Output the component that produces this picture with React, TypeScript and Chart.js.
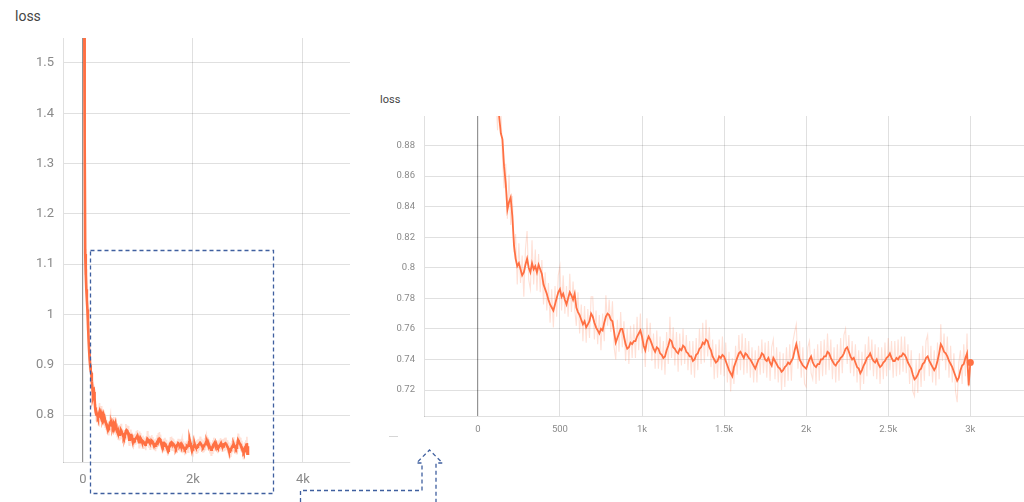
import React, { useEffect, useRef } from "react";
import { Chart, registerables } from "chart.js";

Chart.register(...registerables);

// ---- data ----
const steps = [
  0, 10, 20, 30, 40, 50, 60, 70, 80, 90,
  100, 110, 120, 130, 140, 150, 160, 170, 180, 190,
  200, 210, 220, 230, 240, 250, 260, 270, 280, 290,
  300, 310, 320, 330, 340, 350, 360, 370, 380, 390,
  400, 410, 420, 430, 440, 450, 460, 470, 480, 490,
  500, 510, 520, 530, 540, 550, 560, 570, 580, 590,
  600, 610, 620, 630, 640, 650, 660, 670, 680, 690,
  700, 710, 720, 730, 740, 750, 760, 770, 780, 790,
  800, 810, 820, 830, 840, 850, 860, 870, 880, 890,
  900, 910, 920, 930, 940, 950, 960, 970, 980, 990,
  1000, 1010, 1020, 1030, 1040, 1050, 1060, 1070, 1080, 1090,
  1100, 1110, 1120, 1130, 1140, 1150, 1160, 1170, 1180, 1190,
  1200, 1210, 1220, 1230, 1240, 1250, 1260, 1270, 1280, 1290,
  1300, 1310, 1320, 1330, 1340, 1350, 1360, 1370, 1380, 1390,
  1400, 1410, 1420, 1430, 1440, 1450, 1460, 1470, 1480, 1490,
  1500, 1510, 1520, 1530, 1540, 1550, 1560, 1570, 1580, 1590,
  1600, 1610, 1620, 1630, 1640, 1650, 1660, 1670, 1680, 1690,
  1700, 1710, 1720, 1730, 1740, 1750, 1760, 1770, 1780, 1790,
  1800, 1810, 1820, 1830, 1840, 1850, 1860, 1870, 1880, 1890,
  1900, 1910, 1920, 1930, 1940, 1950, 1960, 1970, 1980, 1990,
  2000, 2010, 2020, 2030, 2040, 2050, 2060, 2070, 2080, 2090,
  2100, 2110, 2120, 2130, 2140, 2150, 2160, 2170, 2180, 2190,
  2200, 2210, 2220, 2230, 2240, 2250, 2260, 2270, 2280, 2290,
  2300, 2310, 2320, 2330, 2340, 2350, 2360, 2370, 2380, 2390,
  2400, 2410, 2420, 2430, 2440, 2450, 2460, 2470, 2480, 2490,
  2500, 2510, 2520, 2530, 2540, 2550, 2560, 2570, 2580, 2590,
  2600, 2610, 2620, 2630, 2640, 2650, 2660, 2670, 2680, 2690,
  2700, 2710, 2720, 2730, 2740, 2750, 2760, 2770, 2780, 2790,
  2800, 2810, 2820, 2830, 2840, 2850, 2860, 2870, 2880, 2890,
  2900, 2910, 2920, 2930, 2940, 2950, 2960, 2970, 2980, 2990,
  3000,
];

const smoothedLoss = [
  2.10, 1.95, 1.64, 1.35, 1.12, 1.08, 1.05, 1.03, 1.01, 0.985,
  0.952, 0.930, 0.912, 0.899, 0.888, 0.884, 0.866, 0.855, 0.838, 0.843,
  0.846, 0.834, 0.815, 0.806, 0.801, 0.803, 0.799, 0.795, 0.797, 0.802,
  0.806, 0.800, 0.797, 0.803, 0.799, 0.801, 0.797, 0.802, 0.799, 0.796,
  0.789, 0.786, 0.783, 0.779, 0.776, 0.774, 0.772, 0.776, 0.780, 0.784,
  0.786, 0.781, 0.783, 0.779, 0.776, 0.780, 0.784, 0.782, 0.779, 0.783,
  0.774, 0.771, 0.769, 0.766, 0.763, 0.765, 0.761, 0.763, 0.765, 0.770,
  0.768, 0.764, 0.761, 0.759, 0.757, 0.760, 0.759, 0.764, 0.768, 0.770,
  0.769, 0.766, 0.765, 0.758, 0.751, 0.754, 0.757, 0.760, 0.760, 0.755,
  0.750, 0.747, 0.748, 0.751, 0.750, 0.752, 0.752, 0.755, 0.757, 0.759,
  0.755, 0.749, 0.746, 0.752, 0.755, 0.753, 0.750, 0.747, 0.745, 0.748,
  0.747, 0.744, 0.743, 0.741, 0.742, 0.746, 0.749, 0.753, 0.752, 0.748,
  0.747, 0.745, 0.744, 0.747, 0.746, 0.749, 0.748, 0.745, 0.744, 0.742,
  0.742, 0.739, 0.740, 0.743, 0.744, 0.747, 0.748, 0.751, 0.750, 0.753,
  0.752, 0.748, 0.746, 0.742, 0.740, 0.738, 0.739, 0.742, 0.741, 0.743,
  0.742, 0.739, 0.736, 0.733, 0.731, 0.729, 0.735, 0.738, 0.741, 0.744,
  0.745, 0.743, 0.741, 0.744, 0.743, 0.741, 0.740, 0.738, 0.736, 0.734,
  0.737, 0.740, 0.741, 0.744, 0.743, 0.740, 0.739, 0.741, 0.738, 0.736,
  0.741, 0.739, 0.737, 0.735, 0.734, 0.732, 0.733, 0.735, 0.736, 0.738,
  0.737, 0.739, 0.741, 0.746, 0.750, 0.745, 0.740, 0.738, 0.736, 0.735,
  0.734, 0.737, 0.740, 0.742, 0.738, 0.736, 0.735, 0.737, 0.737, 0.740,
  0.740, 0.742, 0.742, 0.745, 0.744, 0.741, 0.739, 0.737, 0.736, 0.738,
  0.739, 0.741, 0.742, 0.744, 0.747, 0.748, 0.745, 0.742, 0.740, 0.741,
  0.738, 0.735, 0.734, 0.731, 0.733, 0.736, 0.738, 0.741, 0.742, 0.744,
  0.741, 0.739, 0.738, 0.740, 0.737, 0.735, 0.736, 0.738, 0.739, 0.741,
  0.742, 0.744, 0.741, 0.739, 0.739, 0.741, 0.740, 0.742, 0.742, 0.744,
  0.743, 0.741, 0.738, 0.736, 0.734, 0.730, 0.727, 0.728, 0.730, 0.733,
  0.734, 0.737, 0.738, 0.741, 0.742, 0.739, 0.737, 0.735, 0.733, 0.735,
  0.739, 0.744, 0.750, 0.748, 0.745, 0.744, 0.742, 0.739, 0.737, 0.735,
  0.732, 0.729, 0.726, 0.728, 0.733, 0.736, 0.737, 0.741, 0.744, 0.723,
  0.738,
];

const rawLoss = [
  2.30, 2.05, 1.75, 1.42, 1.08, 1.13, 1.09, 1.00, 0.97, 1.01,
  0.98, 0.915, 0.89, 0.912, 0.905, 0.872, 0.852, 0.868, 0.832, 0.861,
  0.828, 0.847, 0.810, 0.822, 0.789, 0.816, 0.790, 0.808, 0.781, 0.812,
  0.824, 0.792, 0.786, 0.818, 0.789, 0.812, 0.785, 0.809, 0.784, 0.805,
  0.776, 0.797, 0.772, 0.790, 0.764, 0.786, 0.761, 0.788, 0.768, 0.795,
  0.801, 0.772, 0.795, 0.770, 0.788, 0.768, 0.796, 0.771, 0.791, 0.773,
  0.762, 0.784, 0.757, 0.776, 0.752, 0.775, 0.751, 0.773, 0.754, 0.781,
  0.781, 0.753, 0.772, 0.750, 0.769, 0.746, 0.770, 0.752, 0.782, 0.762,
  0.779, 0.758, 0.778, 0.748, 0.740, 0.766, 0.745, 0.771, 0.748, 0.765,
  0.739, 0.760, 0.737, 0.762, 0.741, 0.763, 0.741, 0.768, 0.746, 0.770,
  0.744, 0.760, 0.735, 0.767, 0.745, 0.764, 0.739, 0.757, 0.734, 0.759,
  0.734, 0.755, 0.733, 0.752, 0.730, 0.758, 0.737, 0.768, 0.741, 0.761,
  0.736, 0.758, 0.732, 0.757, 0.736, 0.760, 0.737, 0.756, 0.733, 0.752,
  0.730, 0.752, 0.728, 0.754, 0.733, 0.760, 0.737, 0.764, 0.738, 0.766,
  0.742, 0.761, 0.735, 0.753, 0.727, 0.750, 0.728, 0.753, 0.730, 0.755,
  0.729, 0.751, 0.725, 0.745, 0.719, 0.741, 0.724, 0.749, 0.730, 0.756,
  0.733, 0.757, 0.730, 0.754, 0.731, 0.752, 0.728, 0.748, 0.725, 0.746,
  0.725, 0.749, 0.730, 0.753, 0.731, 0.751, 0.728, 0.752, 0.726, 0.748,
  0.753, 0.727, 0.748, 0.725, 0.745, 0.720, 0.744, 0.722, 0.748, 0.726,
  0.750, 0.726, 0.752, 0.758, 0.763, 0.734, 0.752, 0.728, 0.748, 0.724,
  0.722, 0.748, 0.752, 0.731, 0.727, 0.747, 0.724, 0.750, 0.726, 0.752,
  0.729, 0.753, 0.730, 0.757, 0.733, 0.753, 0.727, 0.748, 0.725, 0.750,
  0.726, 0.754, 0.731, 0.756, 0.760, 0.737, 0.756, 0.731, 0.752, 0.729,
  0.750, 0.725, 0.746, 0.720, 0.745, 0.724, 0.750, 0.729, 0.755, 0.733,
  0.753, 0.729, 0.750, 0.727, 0.748, 0.724, 0.748, 0.727, 0.751, 0.729,
  0.754, 0.733, 0.752, 0.728, 0.752, 0.729, 0.753, 0.730, 0.755, 0.732,
  0.755, 0.731, 0.750, 0.724, 0.746, 0.719, 0.716, 0.740, 0.718, 0.744,
  0.722, 0.749, 0.726, 0.752, 0.756, 0.729, 0.749, 0.725, 0.746, 0.723,
  0.751, 0.727, 0.763, 0.739, 0.757, 0.733, 0.755, 0.728, 0.749, 0.725,
  0.744, 0.719, 0.712, 0.738, 0.746, 0.724, 0.750, 0.729, 0.757, 0.722,
  0.738,
];

const chartTitle = "loss";

const overviewXTicks = [0, 2000, 4000];
const overviewXTickLabels = ["0", "2k", "4k"];
const overviewYTicks = [0.8, 0.9, 1.0, 1.1, 1.2, 1.3, 1.4, 1.5];
const overviewYTickLabels = ["0.8", "0.9", "1", "1.1", "1.2", "1.3", "1.4", "1.5"];

const zoomXTicks = [0, 500, 1000, 1500, 2000, 2500, 3000];
const zoomXTickLabels = ["0", "500", "1k", "1.5k", "2k", "2.5k", "3k"];
const zoomYTicks = [0.72, 0.74, 0.76, 0.78, 0.8, 0.82, 0.84, 0.86, 0.88];
const zoomYTickLabels = ["0.72", "0.74", "0.76", "0.78", "0.8", "0.82", "0.84", "0.86", "0.88"];

// ---- styling ----
const LINE = "#ff7043";
const RAW = "rgba(255,112,67,0.22)";
const GRID = "rgba(0,0,0,0.12)";
const ZERO = "rgba(0,0,0,0.42)";
const FONT = "Roboto, 'Noto Sans', sans-serif";

type Cfg = {
  width: number;
  height: number;
  padTop: number;
  padRight: number;
  yWidth: number;
  xHeight: number;
  xMin: number;
  xMax: number;
  yMin: number;
  yMax: number;
  xTicks: number[];
  xLabels: string[];
  yTicks: number[];
  yLabels: string[];
  fontSize: number;
  xPad: number;
  yPad: number;
  lineWidth: number;
  rawWidth: number;
  endDot: boolean;
};

function zeroPadding(s: any) {
  s.paddingTop = 0;
  s.paddingBottom = 0;
  s.paddingLeft = 0;
  s.paddingRight = 0;
}

function LossChart({ cfg }: { cfg: Cfg }) {
  const ref = useRef<HTMLCanvasElement | null>(null);
  useEffect(() => {
    if (!ref.current) return;
    const smooth = steps.map((s, i) => ({ x: s, y: smoothedLoss[i] }));
    const raw = steps.map((s, i) => ({ x: s, y: rawLoss[i] }));
    const last = steps.length - 1;
    const chart = new Chart(ref.current, {
      type: "line",
      data: {
        datasets: [
          {
            data: smooth,
            borderColor: LINE,
            backgroundColor: LINE,
            borderWidth: cfg.lineWidth,
            tension: 0,
            pointRadius: (c: any) => (cfg.endDot && c.dataIndex === last ? 3.5 : 0),
            pointBorderWidth: 0,
            pointBackgroundColor: LINE,
          },
          {
            data: raw,
            borderColor: RAW,
            borderWidth: cfg.rawWidth,
            tension: 0,
            pointRadius: 0,
          },
        ],
      },
      options: {
        animation: false,
        responsive: false,
        maintainAspectRatio: false,
        devicePixelRatio: 1,
        events: [],
        layout: {
          autoPadding: false,
          padding: { top: cfg.padTop, right: cfg.padRight, left: 0, bottom: 0 },
        },
        plugins: { legend: { display: false }, tooltip: { enabled: false }, title: { display: false } },
        scales: {
          x: {
            type: "linear",
            min: cfg.xMin,
            max: cfg.xMax,
            afterBuildTicks: (s: any) => {
              s.ticks = cfg.xTicks.map((v) => ({ value: v }));
            },
            afterFit: (s: any) => {
              s.height = cfg.xHeight;
              zeroPadding(s);
            },
            grid: {
              color: (c: any) => (c.tick && c.tick.value === 0 ? ZERO : GRID),
              lineWidth: (c: any) => (c.tick && c.tick.value === 0 ? 1.2 : 1),
              drawTicks: false,
            },
            border: { display: true, color: GRID },
            ticks: {
              autoSkip: false,
              maxRotation: 0,
              padding: cfg.xPad,
              color: "#8a8a8a",
              font: { family: FONT, size: cfg.fontSize },
              callback: (v: any) => {
                const i = cfg.xTicks.indexOf(Number(v));
                return i >= 0 ? cfg.xLabels[i] : "";
              },
            },
          },
          y: {
            type: "linear",
            min: cfg.yMin,
            max: cfg.yMax,
            afterBuildTicks: (s: any) => {
              s.ticks = cfg.yTicks.map((v) => ({ value: v }));
            },
            afterFit: (s: any) => {
              s.width = cfg.yWidth;
              zeroPadding(s);
            },
            grid: { color: GRID, lineWidth: 1, drawTicks: false },
            border: { display: true, color: GRID },
            ticks: {
              autoSkip: false,
              padding: cfg.yPad,
              color: "#8a8a8a",
              font: { family: FONT, size: cfg.fontSize },
              callback: (v: any) => {
                const i = cfg.yTicks.findIndex((t) => Math.abs(t - Number(v)) < 1e-9);
                return i >= 0 ? cfg.yLabels[i] : "";
              },
            },
          },
        },
      },
    } as any);
    return () => chart.destroy();
  }, [cfg]);
  return <canvas ref={ref} width={cfg.width} height={cfg.height} style={{ display: "block" }} />;
}

const overviewCfg: Cfg = {
  width: 360,
  height: 502,
  padTop: 38,
  padRight: 10,
  yWidth: 63,
  xHeight: 40,
  xMin: -364,
  xMax: 4855,
  yMin: 0.7066,
  yMax: 1.5497,
  xTicks: overviewXTicks,
  xLabels: overviewXTickLabels,
  yTicks: overviewYTicks,
  yLabels: overviewYTickLabels,
  fontSize: 13,
  xPad: 10,
  yPad: 9,
  lineWidth: 2.6,
  rawWidth: 1.6,
  endDot: false,
};

const zoomCfg: Cfg = {
  width: 654,
  height: 340,
  padTop: 6,
  padRight: 0,
  yWidth: 54,
  xHeight: 34,
  xMin: -328,
  xMax: 3327,
  yMin: 0.703,
  yMax: 0.8993,
  xTicks: zoomXTicks,
  xLabels: zoomXTickLabels,
  yTicks: zoomYTicks,
  yLabels: zoomYTickLabels,
  fontSize: 9.5,
  xPad: 8,
  yPad: 9,
  lineWidth: 1.8,
  rawWidth: 1.1,
  endDot: true,
};

export default function App() {
  const blue = "#3f5f9f";
  return (
    <div
      style={{
        position: "absolute",
        left: 0,
        top: 0,
        width: 1024,
        height: 502,
        overflow: "hidden",
        background: "#fff",
        fontFamily: FONT,
      }}
    >
      <div style={{ position: "absolute", left: 15, top: 8, fontSize: 14, color: "#454545" }}>{chartTitle}</div>
      <div style={{ position: "absolute", left: 0, top: 0 }}>
        <LossChart cfg={overviewCfg} />
      </div>
      <div style={{ position: "absolute", left: 380, top: 93, fontSize: 11, color: "#454545" }}>{chartTitle}</div>
      <div style={{ position: "absolute", left: 370, top: 110 }}>
        <LossChart cfg={zoomCfg} />
      </div>
      <div
        style={{
          position: "absolute",
          left: 389,
          top: 436,
          width: 9,
          height: 1,
          background: "#d6d6d6",
        }}
      />
      <svg
        width={1024}
        height={502}
        style={{ position: "absolute", left: 0, top: 0, pointerEvents: "none" }}
      >
        <rect
          x={90.5}
          y={250.5}
          width={183}
          height={243}
          fill="none"
          stroke={blue}
          strokeWidth={1.3}
          strokeDasharray="4 3"
        />
        <path
          d="M300.5,502 L300.5,490.5 L422,490.5 L422,463 L416.5,463 L429.5,450 L442.5,463 L436,463 L436,502"
          fill="none"
          stroke={blue}
          strokeWidth={1.3}
          strokeDasharray="4 3"
        />
      </svg>
    </div>
  );
}
